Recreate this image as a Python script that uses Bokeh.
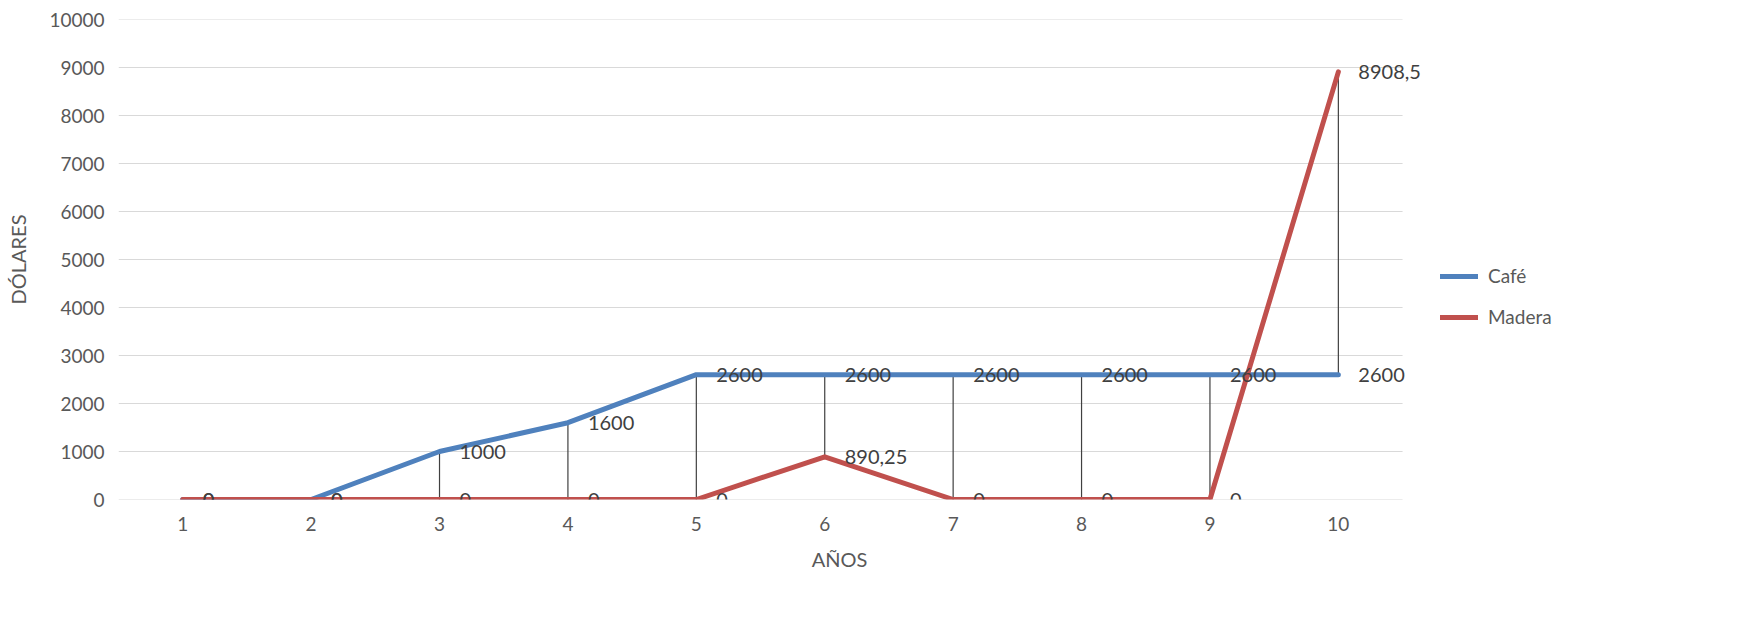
from bokeh.plotting import figure
from bokeh.models import ColumnDataSource, FixedTicker, Range1d, Legend, LegendItem
from bokeh.core.properties import value
from bokeh.embed import file_html
from bokeh.resources import INLINE

years = [1, 2, 3, 4, 5, 6, 7, 8, 9, 10]
year_labels = ["1", "2", "3", "4", "5", "6", "7", "8", "9", "10"]
cafe = [0, 0, 1000, 1600, 2600, 2600, 2600, 2600, 2600, 2600]
madera = [0, 0, 0, 0, 0, 890.25, 0, 0, 0, 8908.5]
cafe_text = ["0", "0", "1000", "1600", "2600", "2600", "2600", "2600", "2600", "2600"]
madera_text = ["0", "0", "0", "0", "0", "890,25", "0", "0", "0", "8908,5"]
y_ticks = [0, 1000, 2000, 3000, 4000, 5000, 6000, 7000, 8000, 9000, 10000]

FONT = "Lato"
BLUE = "#4F81BD"
RED = "#C0504D"
GRID = "#D9D9D9"

X_LO, X_HI = 0.5, 10.5     # category axis span
X_VIEW_HI = 11.73          # extra room on the right for end labels and legend

src = ColumnDataSource(dict(
    x=years, cafe=cafe, madera=madera,
    lo=[min(a, b) for a, b in zip(cafe, madera)],
    hi=[max(a, b) for a, b in zip(cafe, madera)],
    ct=cafe_text, mt=madera_text,
))
grid_src = ColumnDataSource(dict(y=y_ticks, x0=[X_LO] * len(y_ticks), x1=[X_HI] * len(y_ticks)))

p = figure(width=1726, height=630, output_backend="svg", toolbar_location=None,
           x_range=Range1d(X_LO, X_VIEW_HI), y_range=Range1d(0, 10000),
           min_border_left=118, min_border_right=166, min_border_top=19, min_border_bottom=131)
p.outline_line_color = None
p.background_fill_color = "white"
p.border_fill_color = "white"

# horizontal gridlines limited to the category span
p.segment(x0="x0", y0="y", x1="x1", y1="y", source=grid_src, line_color=GRID, line_width=1.2)

# drop lines
p.segment(x0="x", y0="lo", x1="x", y1="hi", source=src, line_color="#404040", line_width=1.2)

r_cafe = p.line("x", "cafe", source=src, line_color=BLUE, line_width=5, line_cap="round", line_join="round")
r_mad = p.line("x", "madera", source=src, line_color=RED, line_width=5, line_cap="round", line_join="round")

p.text(x="x", y="cafe", text="ct", source=src, x_offset=20, text_baseline="middle", text_align="left",
       text_font_size="20px", text_color="#404040", text_font=value(FONT))
p.text(x="x", y="madera", text="mt", source=src, x_offset=20, text_baseline="middle", text_align="left",
       text_font_size="20px", text_color="#404040", text_font=value(FONT))

# axes
p.xaxis.ticker = FixedTicker(ticks=years)
p.xaxis.major_label_overrides = {y: l for y, l in zip(years, year_labels)}
p.yaxis.ticker = FixedTicker(ticks=y_ticks)
for ax in (p.xaxis, p.yaxis):
    ax.major_tick_line_color = None
    ax.minor_tick_line_color = None
    ax.axis_line_color = None
    ax.major_label_text_font = FONT
    ax.major_label_text_font_size = "19px"
    ax.major_label_text_color = "#595959"
    ax.axis_label_text_font = FONT
    ax.axis_label_text_font_size = "20px"
    ax.axis_label_text_font_style = "normal"
    ax.axis_label_text_color = "#595959"
p.xaxis.major_label_standoff = 11
p.yaxis.major_label_standoff = 8
p.xaxis.axis_label = "AÑOS"
p.yaxis.axis_label = "DÓLARES"
p.xaxis.axis_label_standoff = 13
p.yaxis.axis_label_standoff = 16

p.xgrid.grid_line_color = None
p.ygrid.grid_line_color = None

legend = Legend(items=[LegendItem(label="Café", renderers=[r_cafe]),
                       LegendItem(label="Madera", renderers=[r_mad])],
                location=(1322, 171), padding=0, margin=0, spacing=18,
                glyph_width=38, glyph_height=20, label_height=20, label_standoff=10,
                label_text_font=FONT, label_text_font_size="19px", label_text_color="#595959",
                border_line_color=None, background_fill_alpha=0)
p.add_layout(legend, "center")

open("out.html", "w").write(file_html(p, INLINE))
